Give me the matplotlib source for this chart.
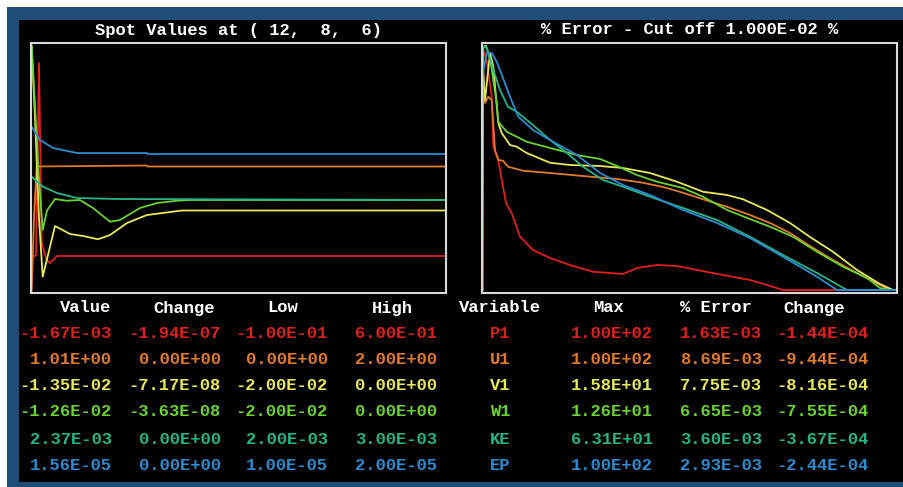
import numpy as np
import matplotlib
matplotlib.use("Agg")
import matplotlib.pyplot as plt
from matplotlib.patches import Rectangle

W, H = 904, 487

variables = ['P1', 'U1', 'V1', 'W1', 'KE', 'EP']
colours = ['#e0201c', '#e07a2c', '#e8e85c', '#6ad232', '#28b48a', '#2c8cd0']

# spot values, each scaled between its own low/high (0..1), against sweep
spot_x = {
    'P1': [0, 5, 8, 10.7, 15.7, 19, 26, 415],
    'U1': [0, 0.7, 3, 5.7, 116, 116.5, 415],
    'V1': [0.7, 4, 8, 11.7, 24, 39, 52, 67, 79, 96, 116, 151, 415],
    'W1': [0.7, 4, 8, 11.7, 16, 24, 36, 49, 62, 79, 89, 109, 126, 146, 160, 415],
    'KE': [0.7, 12, 26, 46, 87, 415],
    'EP': [0.7, 9, 22, 46, 116, 116.5, 415],
}
spot_y = {
    'P1': [0.144, 0.15, 0.92, 0.2, 0.13, 0.12, 0.148, 0.148],
    'U1': [0.0, 0.01, 0.3, 0.506, 0.51, 0.506, 0.506],
    'V1': [0.985, 0.7, 0.3, 0.065, 0.268, 0.236, 0.228, 0.215, 0.232, 0.28, 0.312, 0.33, 0.33],
    'W1': [0.99, 0.75, 0.45, 0.252, 0.33, 0.376, 0.369, 0.372, 0.34, 0.285, 0.292, 0.34, 0.36,
           0.369, 0.372, 0.372],
    'KE': [0.465, 0.425, 0.4, 0.38, 0.376, 0.372],
    'EP': [0.665, 0.612, 0.58, 0.56, 0.56, 0.556, 0.556],
}

# residual % error history (log scale, normalised to the cut off)
err_x = {
    'P1': [0, 4.7, 9.7, 11.3, 16.3, 21, 24, 29.7, 38, 51, 68, 88, 111, 141, 155, 175, 195, 215,
           241, 268, 285, 301, 415],
    'U1': [0, 3, 6.3, 9.7, 13, 16.3, 21, 26, 41, 68, 101, 135, 161, 181, 201, 221, 245, 268,
           288, 308, 328, 351, 375, 398, 408, 415],
    'V1': [0, 3, 8, 11.3, 16.3, 19.7, 28, 34.7, 44.7, 68, 88, 118, 141, 168, 195, 221, 245, 261,
           285, 308, 328, 351, 375, 398, 411, 415],
    'W1': [0.7, 1.3, 4, 8, 14.7, 16.3, 24.7, 44.7, 68, 95, 118, 135, 155, 175, 201, 221, 245,
           268, 288, 311, 335, 361, 385, 398, 408, 415],
    'KE': [1, 4.7, 9.7, 18, 26, 34.7, 51, 68, 85, 101, 121, 141, 168, 201, 235, 268, 301, 335,
           365, 415],
    'EP': [0, 4.7, 9.7, 14.7, 21, 28, 36.3, 51, 68, 95, 118, 141, 168, 201, 235, 268, 301, 335,
           355, 415],
}
err_y = {
    'P1': [0.985, 0.932, 0.785, 0.585, 0.532, 0.425, 0.36, 0.32, 0.225, 0.172, 0.14, 0.112,
           0.085, 0.076, 0.1, 0.112, 0.108, 0.092, 0.072, 0.052, 0.032, 0.012, 0.012],
    'U1': [0.985, 0.76, 0.785, 0.772, 0.572, 0.532, 0.529, 0.505, 0.489, 0.48, 0.468, 0.456,
           0.441, 0.424, 0.401, 0.375, 0.345, 0.312, 0.28, 0.24, 0.188, 0.132, 0.08, 0.032,
           0.012, 0.012],
    'V1': [0.95, 0.772, 0.96, 0.905, 0.68, 0.64, 0.592, 0.585, 0.56, 0.521, 0.512, 0.508, 0.5,
           0.48, 0.445, 0.405, 0.392, 0.375, 0.332, 0.28, 0.224, 0.165, 0.092, 0.036, 0.012,
           0.012],
    'W1': [0.012, 0.985, 0.99, 0.94, 0.76, 0.685, 0.645, 0.605, 0.58, 0.552, 0.536, 0.508,
           0.472, 0.445, 0.42, 0.385, 0.332, 0.296, 0.265, 0.225, 0.165, 0.105, 0.06, 0.02,
           0.012, 0.012],
    'KE': [0.985, 0.98, 0.912, 0.812, 0.745, 0.725, 0.672, 0.612, 0.56, 0.505, 0.452, 0.425,
           0.385, 0.34, 0.292, 0.225, 0.152, 0.08, 0.012, 0.012],
    'EP': [0.86, 0.96, 0.96, 0.925, 0.86, 0.785, 0.705, 0.652, 0.612, 0.552, 0.48, 0.432,
           0.392, 0.332, 0.28, 0.22, 0.145, 0.065, 0.012, 0.012],
}

value = ['-1.67E-03', '1.01E+00', '-1.35E-02', '-1.26E-02', '2.37E-03', '1.56E-05']
change = ['-1.94E-07', '0.00E+00', '-7.17E-08', '-3.63E-08', '0.00E+00', '0.00E+00']
low = ['-1.00E-01', '0.00E+00', '-2.00E-02', '-2.00E-02', '2.00E-03', '1.00E-05']
high = ['6.00E-01', '2.00E+00', '0.00E+00', '0.00E+00', '3.00E-03', '2.00E-05']
maxval = ['1.00E+02', '1.00E+02', '1.58E+01', '1.26E+01', '6.31E+01', '1.00E+02']
pct_err = ['1.63E-03', '8.69E-03', '7.75E-03', '6.65E-03', '3.60E-03', '2.93E-03']
err_change = ['-1.44E-04', '-9.44E-04', '-8.16E-04', '-7.55E-04', '-3.67E-04', '-2.44E-04']

font = dict(family='Liberation Mono', weight='bold', size=12.3)


def fx(x):
    return x / W


def fy(y):
    return 1 - y / H


fig = plt.figure(figsize=(W / 100, H / 100), dpi=100, facecolor='white')

# window frame, drawn in pixel coordinates on a background axes
bg = fig.add_axes([0, 0, 1, 1], zorder=-1)
bg.set_xlim(0, W)
bg.set_ylim(H, 0)
bg.axis('off')
bg.add_patch(Rectangle((7, 7), W + 40, H + 40, facecolor='#1e4d78', edgecolor='none',
                       clip_on=False))
bg.add_patch(Rectangle((19, 20), W + 40, 462, facecolor='black', edgecolor='none',
                       clip_on=False))

BASE = 5.5  # baseline offset below a row's centre line


def panel(left, title, xs, ys):
    ax = fig.add_axes([fx(left), fy(293), fx(415), 250 / H])
    ax.set_facecolor('black')
    for name, col in zip(variables, colours):
        ax.plot(xs[name], ys[name], color=col, lw=1.3, solid_joinstyle='round')
    ax.set_xlim(0, 415)
    ax.set_ylim(0, 1)
    ax.set_xticks([])
    ax.set_yticks([])
    for sp in ax.spines.values():
        sp.set_color('#d8d8d8')
        sp.set_linewidth(1.5)
    fig.text(fx(left + 207.5), fy(29 + BASE), title, color='white', ha='center',
             va='baseline', **font)
    return ax


panel(31, 'Spot Values at ( 12,  8,  6)', spot_x, spot_y)
panel(482, '% Error - Cut off 1.000E-02 %', err_x, err_y)

# table headers
headers = [('Value', 86), ('Change', 184), ('Low', 283), ('High', 392),
           ('Variable', 500), ('Max', 608), ('% Error', 716), ('Change', 814)]
for txt, x in headers:
    fig.text(fx(x), fy(307 + BASE), txt, color='white', ha='center', va='baseline', **font)

row_y = [333, 359, 385, 411, 438, 464]
columns = [(value, 112), (change, 221), (low, 328), (high, 437),
           (maxval, 653), (pct_err, 762), (err_change, 869)]
for i, (yy, col) in enumerate(zip(row_y, colours)):
    for vals, xr in columns:
        fig.text(fx(xr), fy(yy + BASE), vals[i], color=col, ha='right', va='baseline', **font)
    fig.text(fx(500), fy(yy + BASE), variables[i], color=col, ha='center', va='baseline', **font)

fig.savefig('out.png', dpi=100, facecolor='white')
